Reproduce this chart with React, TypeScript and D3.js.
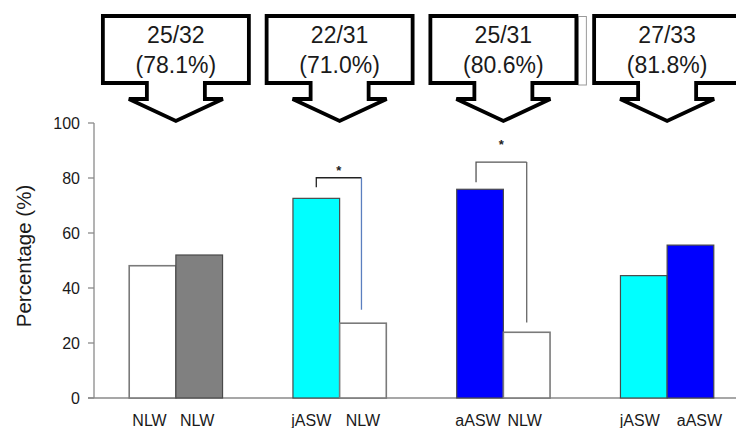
import React from "react";
import * as d3 from "d3";

const groups = ["g1", "g2", "g3", "g4"];
const barLabels = [
  ["NLW", "NLW"],
  ["jASW", "NLW"],
  ["aASW", "NLW"],
  ["jASW", "aASW"],
];
const barValues = [
  [48.1, 52.0],
  [72.6, 27.2],
  [75.9, 23.9],
  [44.5, 55.6],
];
const barColors = [
  ["#ffffff", "#808080"],
  ["#00ffff", "#ffffff"],
  ["#0000ff", "#ffffff"],
  ["#00ffff", "#0000ff"],
];
const calloutLine1 = ["25/32", "22/31", "25/31", "27/33"];
const calloutLine2 = ["(78.1%)", "(71.0%)", "(80.6%)", "(81.8%)"];
const yTicks = [0, 20, 40, 60, 80, 100];
// significance brackets: group index, top value, left end value, right end value
const bracketGroup = [1, 2];
const bracketTop = [80.1, 85.8];
const bracketLeftEnd = [76.6, 78.5];
const bracketRightEnd = [32.1, 27.5];

const W = 736;
const H = 428;
const FONT = "'Liberation Sans', Arial, sans-serif";

export default function App() {
  const x = d3
    .scaleBand<string>()
    .domain(groups)
    .range([94, 749])
    .paddingInner(0.43)
    .paddingOuter(0.215);
  const sub = d3.scaleBand<number>().domain([0, 1]).range([0, x.bandwidth()]);
  const y = d3.scaleLinear().domain([0, 100]).range([398, 123]);
  const axisColor = "#8a8a8a";
  const labelShift = [[-3, -2], [-5, 0], [-2, -2], [-4, 9]];

  const calloutPath = (cx: number) => {
    const bw = 73, top = 16, bot = 83, sw = 29, sb = 99, hw = 47, tip = 121;
    return [
      [cx - bw, top], [cx + bw, top], [cx + bw, bot], [cx + sw, bot], [cx + sw, sb],
      [cx + hw, sb], [cx, tip], [cx - hw, sb], [cx - sw, sb], [cx - sw, bot],
      [cx - bw, bot],
    ].map((p, i) => (i === 0 ? "M" : "L") + p[0] + "," + p[1]).join("") + "Z";
  };

  return (
    <svg
      width={W}
      height={H}
      style={{ position: "absolute", left: 0, top: 0, background: "#fff" }}
      fontFamily={FONT}
    >
      {/* callouts */}
      {groups.map((g, i) => {
        const cx = (x(g) as number) + x.bandwidth() / 2;
        return (
          <g key={g}>
            {i === 2 && (
              <rect x={cx + 75} y={16.5} width={8} height={68.5} fill="none" stroke="#9a9a9a" strokeWidth={1} />
            )}
            <path d={calloutPath(cx)} fill="#fff" stroke="#000" strokeWidth={3.8} strokeLinejoin="miter" />
            <text x={cx} y={43} textAnchor="middle" fontSize={23} fill="#1a1a1a">{calloutLine1[i]}</text>
            <text x={cx} y={73} textAnchor="middle" fontSize={23} fill="#1a1a1a">{calloutLine2[i]}</text>
          </g>
        );
      })}

      {/* y axis */}
      <line x1={94} x2={94} y1={y(100)} y2={y(0)} stroke={axisColor} strokeWidth={1.3} />
      <line x1={88} x2={W} y1={y(0)} y2={y(0)} stroke={axisColor} strokeWidth={1.3} />
      {yTicks.map((t) => (
        <g key={t}>
          <line x1={88} x2={94} y1={y(t)} y2={y(t)} stroke={axisColor} strokeWidth={1.3} />
          <text x={80} y={y(t)} dy="0.35em" textAnchor="end" fontSize={16} fill="#1a1a1a">{t}</text>
        </g>
      ))}
      <text
        transform={`translate(31,256) rotate(-90)`}
        textAnchor="middle"
        fontSize={20.5}
        fill="#1a1a1a"
      >
        Percentage (%)
      </text>

      {/* bars */}
      {groups.map((g, gi) =>
        barValues[gi].map((v, bi) => {
          const bx = (x(g) as number) + (sub(bi) as number);
          const white = barColors[gi][bi] === "#ffffff";
          return (
            <g key={g + bi}>
              <rect
                x={bx}
                y={y(v)}
                width={sub.bandwidth()}
                height={y(0) - y(v)}
                fill={barColors[gi][bi]}
                stroke={white ? "#7a7a7a" : "#4a4a4a"}
                strokeWidth={white ? 1.6 : 1.2}
              />
              <text
                x={bx + sub.bandwidth() / 2 + labelShift[gi][bi]}
                y={425.5}
                textAnchor="middle"
                fontSize={16}
                fill="#1a1a1a"
              >
                {barLabels[gi][bi]}
              </text>
            </g>
          );
        })
      )}

      {/* significance brackets */}
      {bracketGroup.map((gi, k) => {
        const g = groups[gi];
        const lx = (x(g) as number) + (sub(0) as number) + sub.bandwidth() / 2 - (k === 0 ? 0 : 4);
        const rx = (x(g) as number) + (sub(1) as number) + sub.bandwidth() / 2 - (k === 0 ? 1.5 : 0);
        const ty = y(bracketTop[k]);
        return (
          <g key={k}>
            <path
              d={`M${lx},${y(bracketLeftEnd[k])}L${lx},${ty}L${rx},${ty}`}
              fill="none"
              stroke={k === 0 ? "#222" : "#555"}
              strokeWidth={1.3}
            />
            <line x1={rx} x2={rx} y1={ty} y2={y(bracketRightEnd[k])} stroke={k === 0 ? "#5b7fbf" : "#666"} strokeWidth={1.3} />
            <text
              x={(lx + rx) / 2}
              y={ty - (k === 0 ? 3 : 13)}
              textAnchor="middle"
              fontSize={13}
              fontWeight="bold"
              fill="#222"
            >
              *
            </text>
          </g>
        );
      })}
    </svg>
  );
}
